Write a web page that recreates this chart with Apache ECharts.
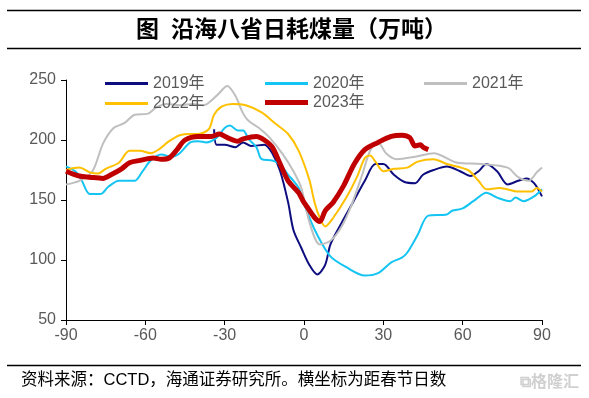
<!DOCTYPE html>
<html>
<head>
<meta charset="utf-8">
<script src="https://cdn.jsdelivr.net/npm/echarts@6/dist/echarts.min.js"></script>
<style>
  html, body { margin: 0; padding: 0; background: #fff; }
  #chart { width: 589px; height: 398px; }
</style>
</head>
<body>
<div id="chart"></div>
<script>
// days from Spring Festival (x) and daily coal use, 10k t (y)
const days2019 = [-34,-33,-30,-26,-23,-20,-15,-12,-9,-6,-4,-1,2,5,8,10,14,18,23,27,30,34,38,42,45,49,54,59,63,66,69,73,77,81,84,87,90];
const coal2019 = [209,196,196,194,198,195,196,189,174,148,125,110,96,88,96,113,130,146,166,180,180,171,165,164,171,175,178,174,170,174,180,174,163,166,168,164,153];

const days2020 = [-90,-86,-84,-81,-77,-74,-70,-67,-64,-61,-58,-54,-50,-47,-43,-40,-37,-33,-30,-28,-25,-23,-21,-18,-16,-12,-10,-8,-6,-4,-2,1,5,10,16,23,28,33,37,39,43,47,54,56,60,64,69,73,78,80,83,87,90];
const coal2020 = [178,173,166,155,155,161,166,166,166,174,183,188,186,189,198,199,198,202,210,212,208,208,201,194,184,183,181,177,171,166,160,141,121,103,94,87,89,98,102,106,121,137,138,141,143,149,156,152,149,152,149,153,159];

const days2021 = [-90,-85,-80,-76,-72,-68,-64,-59,-56,-52,-47,-42,-38,-33,-29,-26,-23,-21,-17,-13,-8,-4,-1,2,6,10,14,18,22,25,28,31,35,42,49,58,67,77,81,85,88,90];
const coal2021 = [163,166,174,197,210,214,221,222,227,230,229,230,229,237,245,237,222,216,210,202,188,174,160,132,113,116,127,146,171,191,198,189,184,186,189,181,180,177,169,166,173,177];

const days2022 = [-90,-85,-81,-78,-75,-70,-66,-62,-58,-55,-51,-47,-43,-40,-36,-34,-31,-27,-22,-16,-11,-6,-2,2,4,6,8,11,16,20,23,25,27,30,34,39,43,49,54,62,66,69,74,81,86,88,90];
const coal2022 = [175,177,173,172,176,181,191,191,189,192,199,204,205,205,209,221,228,230,229,223,214,205,191,167,148,135,128,135,152,169,185,187,182,174,176,177,182,184,180,175,166,159,160,157,157,160,157];

const days2023 = [-90,-85,-81,-76,-73,-69,-66,-62,-57,-54,-51,-48,-45,-40,-35,-32,-29,-25,-23,-18,-15,-12,-9,-6,-2,0,6,8,11,15,19,23,28,33,37,40,42,44,45,47];
const coal2023 = [174,170,169,168,171,176,181,183,185,184,185,192,200,203,203,205,202,199,201,203,200,194,180,166,156,148,132,141,148,162,180,192,198,203,204,202,195,196,194,192];

const seriesNames = ['2019年', '2020年', '2021年', '2022年', '2023年'];
const zip = (xs, ys) => xs.map((x, i) => [x, ys[i]]);

const lines = [
  { name: '2019年', data: zip(days2019, coal2019), color: '#0D0D80', width: 2 },
  { name: '2020年', data: zip(days2020, coal2020), color: '#14C4F2', width: 2 },
  { name: '2021年', data: zip(days2021, coal2021), color: '#BFBFBF', width: 2 },
  { name: '2022年', data: zip(days2022, coal2022), color: '#FFC000', width: 2 },
  { name: '2023年', data: zip(days2023, coal2023), color: '#C00000', width: 5 },
];

const legendPos = [[105, 77], [265, 77], [424, 77], [105, 97], [265, 97]];
const axisText = { color: '#595959', fontSize: 16, fontFamily: 'Liberation Sans, Arial, sans-serif' };

const chart = echarts.init(document.getElementById('chart'), null, { renderer: 'canvas' });

chart.setOption({
  animation: false,
  backgroundColor: '#fff',
  legend: seriesNames.map((n, i) => {
    const h = n === '2023年' ? 5 : 3;
    return {
      data: [n],
      left: legendPos[i][0],
      top: legendPos[i][1] - h / 2,
      icon: 'rect',
      itemWidth: 43,
      itemHeight: h,
      itemGap: 0,
      padding: 0,
      textStyle: { color: '#595959', fontSize: 16, fontFamily: 'Liberation Sans, Noto Sans CJK SC, sans-serif' }
    };
  }),
  grid: {
    left: 66,
    right: 47,
    top: 80,
    bottom: 78,
    containLabel: false
  },
  xAxis: {
    type: 'value',
    min: -90,
    max: 90,
    interval: 30,
    splitLine: { show: false },
    axisLine: { onZero: false, lineStyle: { color: '#000', width: 1 } },
    axisTick: { show: true, length: 5, lineStyle: { color: '#000' } },
    axisLabel: Object.assign({ margin: 8 }, axisText)
  },
  yAxis: {
    type: 'value',
    min: 50,
    max: 250,
    interval: 50,
    splitLine: { show: false },
    axisLine: { show: true, onZero: false, lineStyle: { color: '#000', width: 1 } },
    axisTick: { show: true, length: 5, lineStyle: { color: '#000' } },
    axisLabel: Object.assign({ margin: 10 }, axisText)
  },
  graphic: [
    { type: 'line', shape: { x1: 7, y1: 10.5, x2: 581, y2: 10.5 }, style: { stroke: '#000', lineWidth: 1.5 } },
    { type: 'line', shape: { x1: 7, y1: 48.5, x2: 581, y2: 48.5 }, style: { stroke: '#000', lineWidth: 1.5 } },
    { type: 'line', shape: { x1: 7, y1: 365.5, x2: 581, y2: 365.5 }, style: { stroke: '#000', lineWidth: 1.5 } },
    {
      type: 'text', left: 136, top: 17,
      style: { text: '图', fill: '#000', fontSize: 23, fontWeight: 'bold', fontFamily: 'Noto Sans CJK SC, sans-serif' }
    },
    {
      type: 'text', left: 171, top: 17,
      style: { text: '沿海八省日耗煤量（万吨）', fill: '#000', fontSize: 23, fontWeight: 'bold', fontFamily: 'Noto Sans CJK SC, sans-serif' }
    },
    {
      type: 'text', left: 21, top: 372,
      style: {
        text: '资料来源：CCTD，海通证券研究所。横坐标为距春节日数',
        fill: '#000', fontSize: 16.5,
        fontFamily: 'Liberation Sans, Noto Sans CJK SC, sans-serif'
      }
    },
    {
      type: 'text', left: 520, top: 373,
      style: { text: '⧉格隆汇', fill: '#d0d0d0', fontSize: 16, fontWeight: 'bold', fontFamily: 'Noto Sans CJK SC, sans-serif' }
    }
  ],
  series: lines.map(s => ({
    name: s.name,
    type: 'line',
    data: s.data,
    symbol: 'none',
    smooth: 0.3,
    z: s.name === '2023年' ? 5 : 3,
    itemStyle: { color: s.color },
    lineStyle: { color: s.color, width: s.width }
  }))
});
</script>
</body>
</html>
